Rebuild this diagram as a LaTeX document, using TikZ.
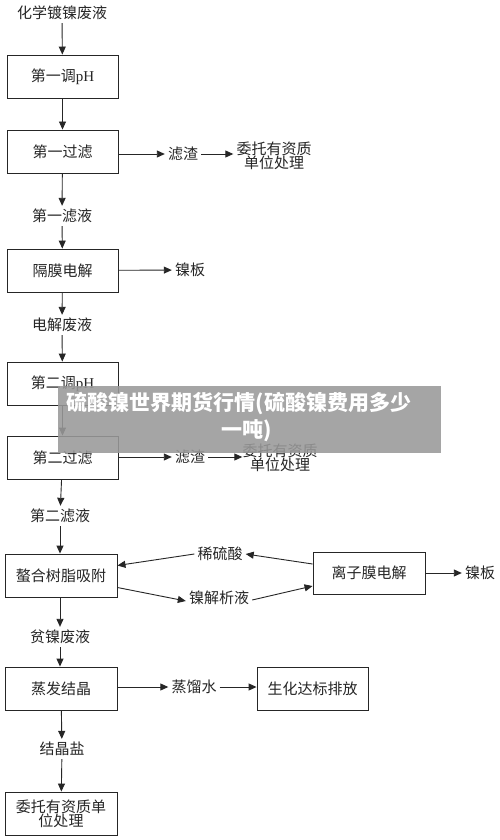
\documentclass[tikz,border=0pt]{standalone}
\usepackage{fontspec}
\setmainfont{Noto Sans CJK SC}
\newfontfamily\tms{Liberation Serif}
\usetikzlibrary{arrows.meta}
\begin{document}
\begin{tikzpicture}[x=1pt,y=-1pt,
  every node/.style={font=\fontsize{15}{18}\selectfont, text=black!85},
  box/.style={draw=black!85, line width=0.9pt, minimum width=111pt, minimum height=43pt, inner sep=1pt, align=center},
  lbl/.style={inner sep=3pt, align=center},
  flow/.style={draw=black!85, line width=0.9pt, -{Triangle[length=8pt,width=7pt]}}
]
\useasboundingbox[fill=white] (0,0) rectangle (500,840);
% main column
\node[lbl] (t0) at (62,13) {化学镀镍废液};
\node[box] (b1) at (62.5,76.5) {第一调{\tms pH}};
\node[box] (b2) at (62.5,151.5) {第一过滤};
\node[lbl] (l1) at (183,154) {滤渣};
\node[lbl] (r1) at (274,156) {委托有资质\\[-4pt]单位处理};
\node[lbl] (t1) at (62,216) {第一滤液};
\node[box] (b3) at (62.5,270.5) {隔膜电解};
\node[lbl] (n1) at (190,270) {镍板};
\node[lbl] (t2) at (62,325) {电解废液};
\node[box] (b4) at (62.5,383.5) {第二调{\tms pH}};
\node[box] (b5) at (62.5,457.5) {第二过滤};
\node[lbl] (l2) at (190,457) {滤渣};
\node[lbl] (r2) at (280,458) {委托有资质\\[-4pt]单位处理};
\node[lbl] (t3) at (60,516) {第二滤液};
\node[box, minimum width=112pt] (b6) at (61,575.5) {螯合树脂吸附};
\node[lbl] (a1) at (220,554) {稀硫酸};
\node[lbl] (a2) at (219,598) {镍解析液};
\node[box, minimum width=112pt, minimum height=42pt] (b7) at (369,573) {离子膜电解};
\node[lbl] (n2) at (480,573) {镍板};
\node[lbl] (t4) at (60,637) {贫镍废液};
\node[box, minimum width=112pt] (b8) at (61,688.5) {蒸发结晶};
\node[lbl] (d1) at (194,687) {蒸馏水};
\node[box] (b9) at (312.5,688.5) {生化达标排放};
\node[lbl] (t5) at (62,749) {结晶盐};
\node[box, minimum width=112pt] (b10) at (61,813.5) {委托有资质单\\[-4pt]位处理};

\draw[flow] (t0) -- (b1);
\draw[flow] (b1) -- (b2);
\draw[flow] (b2.east |- l1) -- (l1);
\draw[flow] (l1) -- (r1.west |- l1);
\draw[flow] (b2) -- (t1);
\draw[flow] (t1) -- (b3);
\draw[flow] (b3) -- (n1);
\draw[flow] (b3) -- (t2);
\draw[flow] (t2) -- (b4);
\draw[flow] (b4) -- (b5);
\draw[flow] (b5.east |- l2) -- (l2);
\draw[flow] (l2) -- ([xshift=3pt]r2.west |- l2);
\draw[flow] (b5) -- (t3);
\draw[flow] (t3) -- (b6.north -| t3);
\draw[flow] ([yshift=9pt]b7.west) -- (a1.east);
\draw[flow] (a1.west) -- ([yshift=10pt]b6.east);
\draw[flow] ([yshift=-12pt]b6.east) -- ([yshift=-3pt]a2.west);
\draw[flow] ([yshift=-2pt]a2.east) -- ([yshift=-13pt]b7.west);
\draw[flow] (b7) -- (n2);
\draw[flow] (b6.south -| t4) -- (t4);
\draw[flow] (t4) -- (b8.north -| t4);
\draw[flow] (b8.east |- d1) -- (d1);
\draw[flow] (d1) -- (b9.west |- d1);
\draw[flow] (b8) -- (t5);
\draw[flow] (t5) -- (b10);

% watermark banner
\fill[black!40, opacity=0.88] (58,386) rectangle (441,453);
\node[font=\fontsize{21}{24}\selectfont\bfseries, text=white, inner sep=0pt] (w1) at (239,404) {硫酸镍世界期货行情(硫酸镍费用多少};
\node[font=\fontsize{21}{24}\selectfont\bfseries, text=white, inner sep=0pt] (w2) at (247,431) {一吨)};
\end{tikzpicture}
\end{document}
